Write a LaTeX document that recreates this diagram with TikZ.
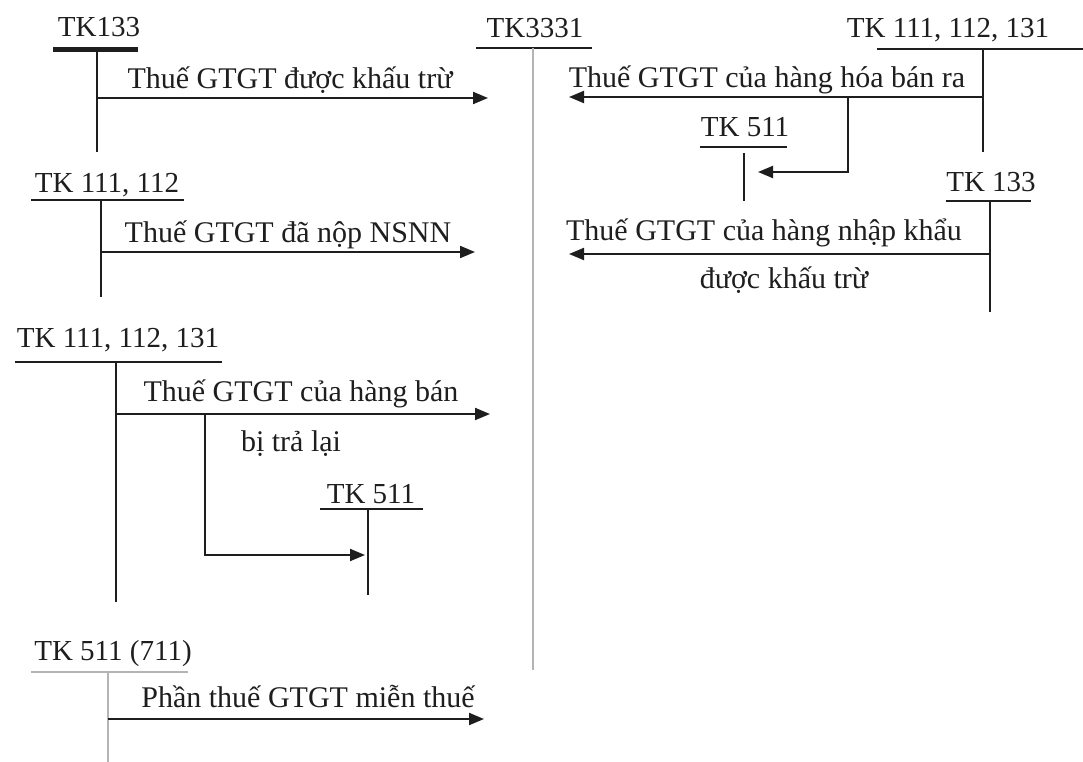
\documentclass[tikz,border=0pt]{standalone}
\usepackage{fontspec}
\setmainfont{Liberation Serif}
\usetikzlibrary{arrows.meta}
\definecolor{ink}{HTML}{1E1E1E}
\definecolor{lgray}{HTML}{B4B4B4}
\begin{document}
\begin{tikzpicture}[x=1pt,y=-1pt,
  txt/.style={font=\fontsize{30}{34}\selectfont, text=ink, inner sep=0pt, anchor=base},
  acct/.style={txt, font=\fontsize{29}{33}\selectfont},
  ln/.style={draw=ink, line width=2pt},
  thk/.style={draw=ink, line width=5pt},
  gln/.style={draw=lgray, line width=2pt},
  arr/.style={ln, -{Triangle[length=15pt,width=12pt]}}]
\useasboundingbox[fill=white] (0,0) rectangle (1083,762);

% ---- TK133 (top left)
\node[acct] (tkA) at (99,37) {TK133};
\coordinate (A1) at (53,50); \coordinate (A2) at (138,50);
\coordinate (A3) at (97,50); \coordinate (A4) at (97,152);
\coordinate (A5) at (97,98);
\draw[thk] (A1) -- (A2);
\draw[ln] (A3) -- (A4);

% ---- TK3331 (centre)
\node[acct] (tkB) at (535,38) {TK3331};
\coordinate (B1) at (476,48); \coordinate (B2) at (592,48);
\coordinate (B3) at (533,48); \coordinate (B4) at (533,670);
\draw[ln] (B1) -- (B2);
\draw[gln] (B3) -- (B4);
\coordinate (Bin1) at (488,98);
\coordinate (Bin2) at (475,252);
\coordinate (Bin3) at (490,414);
\coordinate (Bin4) at (484,719);
\coordinate (Bout1) at (569,97);
\coordinate (Bout2) at (569,254);

% ---- TK 111, 112, 131 (top right)
\node[acct] (tkC) at (948,38) {TK 111, 112, 131};
\coordinate (C1) at (877,49); \coordinate (C2) at (1083,49);
\coordinate (C3) at (983,49); \coordinate (C4) at (983,152);
\coordinate (C5) at (983,97);
\coordinate (C6) at (848,97); \coordinate (C7) at (848,172);
\draw[ln] (C1) -- (C2);
\draw[ln] (C3) -- (C4);

% ---- TK 511 (top right, small)
\node[acct] (tkD) at (745,137) {TK 511};
\coordinate (D1) at (700,147); \coordinate (D2) at (787,147);
\coordinate (D3) at (744,153); \coordinate (D4) at (744,201);
\coordinate (D5) at (758,172);
\draw[ln] (D1) -- (D2);
\draw[ln] (D3) -- (D4);

% ---- TK 133 (right)
\node[acct] (tkE) at (991,191) {TK 133};
\coordinate (E1) at (946,201); \coordinate (E2) at (1031,201);
\coordinate (E3) at (990,201); \coordinate (E4) at (990,312);
\coordinate (E5) at (990,254);
\draw[ln] (E1) -- (E2);
\draw[ln] (E3) -- (E4);

% ---- TK 111, 112 (left)
\node[acct] (tkF) at (107,192) {TK 111, 112};
\coordinate (F1) at (31,200); \coordinate (F2) at (184,200);
\coordinate (F3) at (101,200); \coordinate (F4) at (101,297);
\coordinate (F5) at (101,252);
\draw[ln] (F1) -- (F2);
\draw[ln] (F3) -- (F4);

% ---- TK 111, 112, 131 (left)
\node[acct] (tkG) at (118,347) {TK 111, 112, 131};
\coordinate (G1) at (15,362); \coordinate (G2) at (222,362);
\coordinate (G3) at (116,362); \coordinate (G4) at (116,602);
\coordinate (G5) at (116,414);
\coordinate (G6) at (205,414); \coordinate (G7) at (205,555);
\draw[ln] (G1) -- (G2);
\draw[ln] (G3) -- (G4);

% ---- TK 511 (left, small)
\node[acct] (tkH) at (371,503) {TK 511};
\coordinate (H1) at (320,509); \coordinate (H2) at (423,509);
\coordinate (H3) at (368,509); \coordinate (H4) at (368,595);
\coordinate (H5) at (365,555);
\draw[ln] (H1) -- (H2);
\draw[ln] (H3) -- (H4);

% ---- TK 511 (711)
\node[acct] (tkI) at (113,660) {TK 511 (711)};
\coordinate (I1) at (31,672); \coordinate (I2) at (188,672);
\coordinate (I3) at (108,672); \coordinate (I4) at (108,762);
\coordinate (I5) at (108,719);
\draw[gln] (I1) -- (I2);
\draw[gln] (I3) -- (I4);

% ---- connectors
\draw[arr] (A5) -- (Bin1);
\draw[arr] (F5) -- (Bin2);
\draw[arr] (G5) -- (Bin3);
\draw[arr] (I5) -- (Bin4);
\draw[arr] (C5) -- (Bout1);
\draw[arr] (C6) -- (C7) -- (D5);
\draw[arr] (E5) -- (Bout2);
\draw[arr] (G6) -- (G7) -- (H5);

% ---- labels
\node[txt] (lA) at (290,89) {Thuế GTGT được khấu trừ};
\node[txt] (lC) at (767,88) {Thuế GTGT của hàng hóa bán ra};
\node[txt] (lE1) at (764,240) {Thuế GTGT của hàng nhập khẩu};
\node[txt] (lE2) at (784,288) {được khấu trừ};
\node[txt] (lF) at (288,242) {Thuế GTGT đã nộp NSNN};
\node[txt] (lG1) at (301,401) {Thuế GTGT của hàng bán};
\node[txt] (lG2) at (291,451) {bị trả lại};
\node[txt] (lI) at (308,707) {Phần thuế GTGT miễn thuế};
\end{tikzpicture}
\end{document}
